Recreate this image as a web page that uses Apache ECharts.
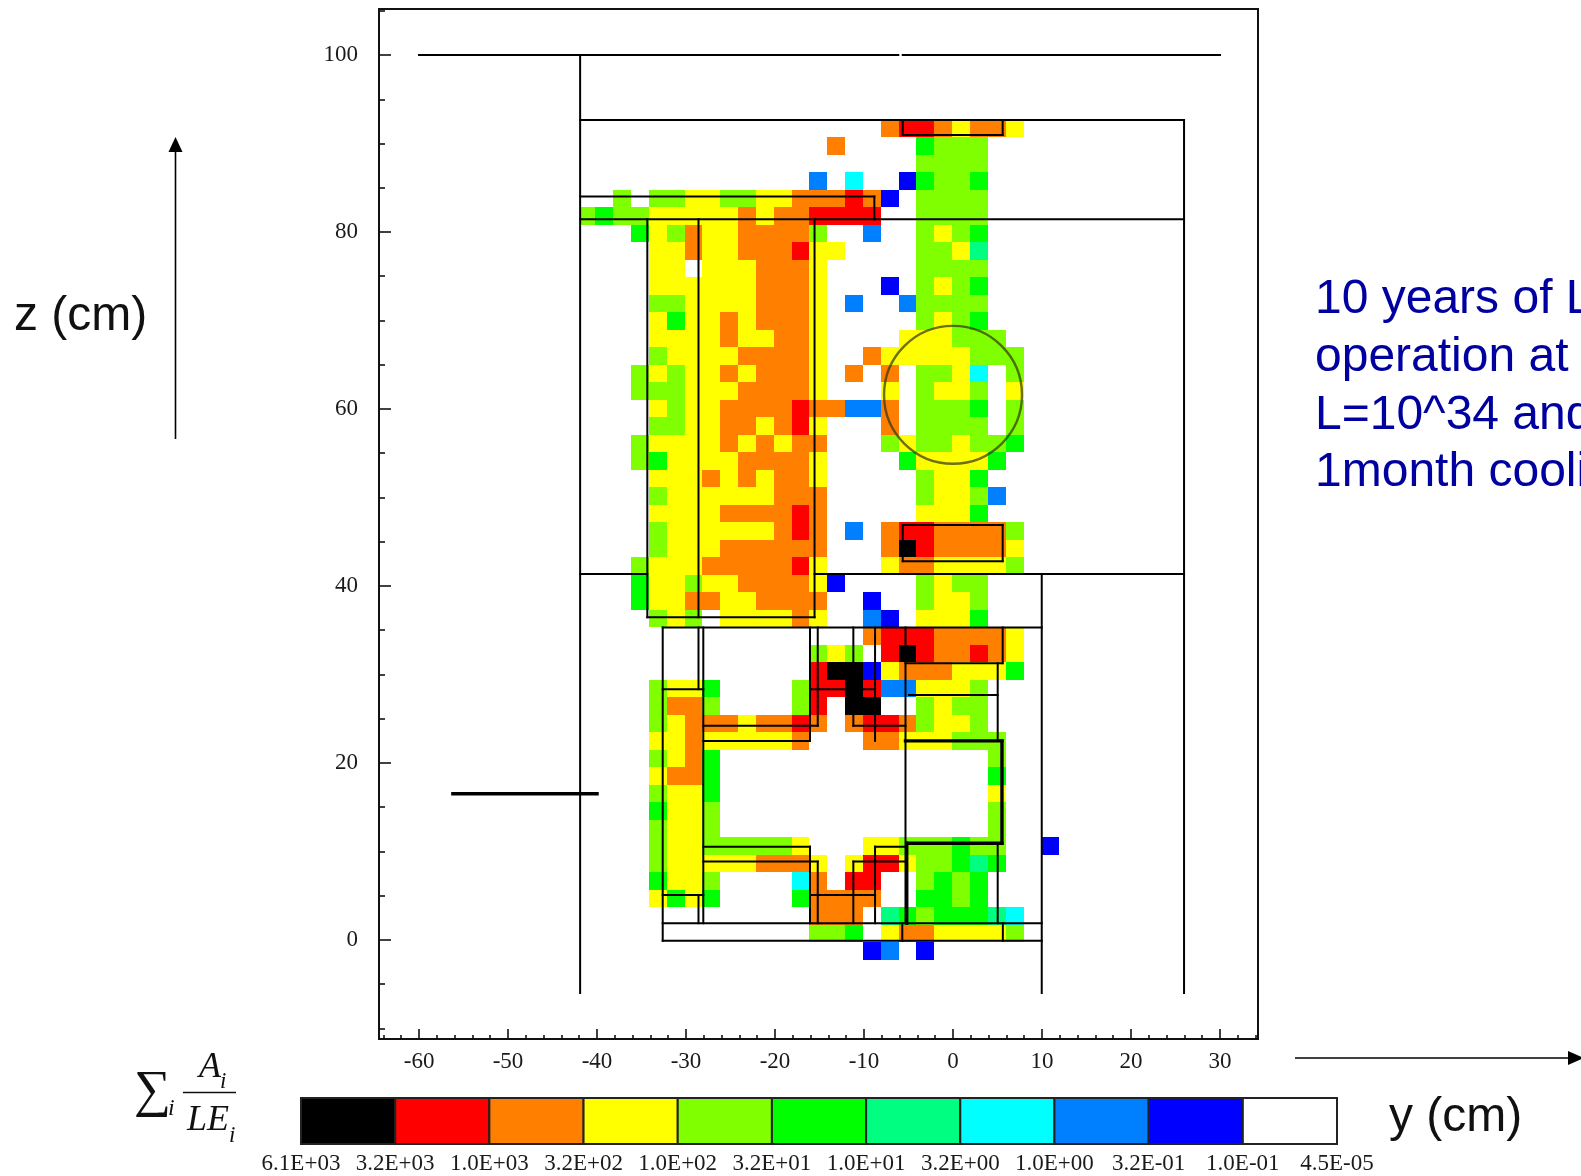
<!DOCTYPE html>
<html>
<head>
<meta charset="utf-8">
<style>html,body{margin:0;padding:0;background:#fff;overflow:hidden}#chart{width:1581px;height:1176px;filter:blur(0.55px)}</style>
<script src="https://cdn.jsdelivr.net/npm/echarts@6/dist/echarts.min.js"></script>
</head>
<body>
<div id="chart"></div>
<script>
// Colour bins, highest first; '.' is the white bin.
const levelKeys = ['k','r','o','y','g','G','s','c','a','b','.'];
const levelColors = ['#000000','#ff0000','#ff8000','#ffff00','#80ff00','#00ff00','#00ff80','#00ffff','#0080ff','#0000ff','#ffffff'];
const levelLabels = ['6.1E+03','3.2E+03','1.0E+03','3.2E+02','1.0E+02','3.2E+01','1.0E+01','3.2E+00','1.0E+00','3.2E-01','1.0E-01','4.5E-05'];

// Mesh: column 0 starts near y = -42 cm, columns are about 2 cm wide; row 0 starts at z = 92.66 cm.
const meshY0 = -42.2, meshDY = 2.005, meshZ0 = 92.66, meshDZ = 1.977, meshLeftWall = -41.9;

// Each row, top to bottom: "firstColumn:levels" runs.
const meshRows = [
 "17:orroyooy",
 "14:o 19:Gggg",
 "19:gggg",
 "13:a 15:c 18:bGggG",
 "2:g 4:ggyyggyyooo 15:rob 19:gggg",
 "0:gGggyyyyyoyoorrrr 19:gggg",
 "3:Gygoyyoooog 16:a 19:gygG",
 "4:yyoyyoooryy 19:ggys",
 "4:yy 7:yyyoooy 19:gggg",
 "4:yyyyyyoooy 17:b 19:gygG",
 "4:ggyyyyoooy 15:a 18:agggg",
 "4:yGyyoyoooy 19:gygG",
 "4:yyyyoyyooy 18:yyyggg",
 "4:gyyyyooooy 16:oyyyyyggg",
 "3:gygyyoyoooy 15:o 17:o 19:ggyc 24:g",
 "3:gggyyyooooy 17:y 19:gyyg 24:y",
 "4:ygyyoooorooaao 19:gggG 24:g",
 "4:ggyyooyory 17:o 19:gggg 24:g",
 "3:gyyyyoyoyoo 17:gyggyggG",
 "3:gGyyyyooooy 18:GyyyyG",
 "4:yyyoyoyooy 19:gyyG",
 "4:gyyyyyyooo 19:gyyga",
 "4:yyyyooooro 19:yyyG",
 "4:gyyyyyyoro 15:a 17:orroooog",
 "4:gyyyoooooo 17:okrooooy",
 "3:gyyyooooory 17:yooyyyyg",
 "3:Gyygyyooooyb 19:gygg",
 "3:Gyyooyyoooo 16:b 19:gyyg",
 "4:gyg 8:yyyyoy 16:ab 19:yyyG",
 "16:orrrooooy",
 "13:gyg 17:rkrooroy",
 "13:rkkbyoooyyyG",
 "4:gyyG 12:grrkraayyyg",
 "4:goog 12:gr 15:kk 19:gygg",
 "4:gyoooyooro 15:orrogyyg",
 "4:yyoyyyyyo 16:ooyyyggg",
 "4:gyoG 23:g",
 "4:yooG 23:G",
 "4:gyyG 23:y",
 "4:Gyyg 23:g",
 "4:gyyg 23:g",
 "4:gyygggggy 16:yygggGgg 26:b",
 "4:gyyyyyoooy 15:yrryggGsG",
 "4:Gyyg 12:co 15:rr 19:gGgG",
 "4:yGyG 12:Goooo 19:GGgG",
 "13:ooo 17:sGgGGGsc",
 "13:ggG 17:yooyyyyg",
 "16:ba 19:b"
];

// Detector outlines in cm: [y1,z1,y2,z2,...]
const thinOutlines = [
 [-60,100,-6.15,100],[-5.65,100,30,100],[-41.9,100,-41.9,-6],
 [-41.9,92.66,25.96,92.66,25.96,-6],[-41.9,81.43,25.96,81.43],
 [-41.9,84,-8.84,84,-8.84,81.43],
 [-5.65,92.66,5.58,92.66,5.58,90.96,-5.65,90.96,-5.65,92.66],
 [-34.35,81.43,-34.35,36.46,-15.56,36.46,-15.56,81.43],[-28.6,81.43,-28.6,36.46],
 [-41.9,41.36,-34.35,41.36],[-15.56,41.36,25.96,41.36],
 [-5.65,46.9,5.58,46.9,5.58,42.8,-5.65,42.8,-5.65,46.9],
 [9.97,41.36,9.97,-6],[-32.62,35.3,9.97,35.3],
 [-32.62,35.3,-32.62,-0.11,9.97,-0.11],[-32.62,1.89,9.97,1.89],
 [-32.62,28.33,-28.06,28.33],[-28.6,35.3,-28.6,28.33],[-28.06,35.3,-28.06,1.89],
 [-32.62,5.08,-28.06,5.08],[-28.6,5.08,-28.6,1.89],
 [-28.06,24.2,-15.2,24.2,-15.2,35.3],[-28.06,22.49,-16.07,22.49,-16.07,35.3],
 [-16.07,28.33,-8.76,28.33],[-11.2,35.3,-11.2,24.2,-5.34,24.2],[-8.76,35.3,-8.76,22.49],
 [-5.34,35.3,-5.34,1.89],[-5.7,1.89,-5.7,-0.11],
 [-5.34,31.27,5.58,31.27],[5.58,35.3,5.58,31.27],[5.02,31.27,5.02,22.49],
 [-4.95,27.68,5.02,27.68],[5.02,10.93,5.02,1.89],[5.6,1.89,5.6,-0.11],
 [-28.06,10.54,-16.07,10.54,-16.07,1.89],[-28.06,8.85,-15.2,8.85,-15.2,1.89],
 [-16.07,5.08,-8.76,5.08],[-11.2,1.89,-11.2,8.85,-5.34,8.85],[-8.76,1.89,-8.76,10.54,-5.34,10.54]
];
const thickOutlines = [
 [-5.34,22.49,5.5,22.49,5.5,10.93,-5.2,10.93,-5.2,1.89],
 [-56.2,16.52,-40,16.52]
];
const ringCenterY = 0, ringCenterZ = 61.6, ringRadius = 7.75;

const xMajorTicks = [-60,-50,-40,-30,-20,-10,0,10,20,30];
const xMinorTicks = [-64,-62,-58,-56,-54,-52,-48,-46,-44,-42,-38,-36,-34,-32,-28,-26,-24,-22,-18,-16,-14,-12,-8,-6,-4,-2,2,4,6,8,12,14,16,18,22,24,26,28,32,34];
const zMajorTicks = [0,20,40,60,80,100];
const zMinorTicks = [-10,-5,5,10,15,25,30,35,45,50,55,65,70,75,85,90,95,105];

const SERIF = '"Liberation Serif","Times New Roman",serif';
const SANS = '"Liberation Sans",Arial,sans-serif';
const INK = '#1a1a1a';

const cellData = [];
meshRows.forEach((row, j) => {
  row.split(' ').forEach(run => {
    const [start, levels] = run.split(':');
    [...levels].forEach((ch, k) => {
      const i = +start + k;
      const y0 = meshY0 + i * meshDY;
      const zTop = meshZ0 - j * meshDZ;
      cellData.push([Math.max(y0, meshLeftWall), zTop - meshDZ, y0 + meshDY, zTop, levelKeys.indexOf(ch)]);
    });
  });
});
const toSegments = (paths, w) => paths.flatMap(p => {
  const out = [];
  for (let i = 0; i + 3 < p.length; i += 2) out.push([p[i], p[i+1], p[i+2], p[i+3], w]);
  return out;
});
const segmentData = toSegments(thinOutlines, 2).concat(toSegments(thickOutlines, 3.4));
const legendData = levelColors.map((c, i) => [i, 0, i + 1, 1, i]);

function renderCell(params, api) {
  const a = api.coord([api.value(0), api.value(3)]);
  const b = api.coord([api.value(2), api.value(1)]);
  const x = Math.round(a[0]), y = Math.round(a[1]);
  return { type: 'rect', shape: { x, y, width: Math.round(b[0]) - x, height: Math.round(b[1]) - y },
           style: { fill: levelColors[api.value(4)] } };
}
function renderLegendCell(params, api) {
  const a = api.coord([api.value(0), api.value(3)]);
  const b = api.coord([api.value(2), api.value(1)]);
  return { type: 'rect', shape: { x: a[0], y: a[1], width: b[0] - a[0], height: b[1] - a[1] },
           style: { fill: levelColors[api.value(4)], stroke: '#222', lineWidth: 2 } };
}
function renderSegment(params, api) {
  const a = api.coord([api.value(0), api.value(1)]);
  const b = api.coord([api.value(2), api.value(3)]);
  return { type: 'line', shape: { x1: a[0], y1: a[1], x2: b[0], y2: b[1] },
           style: { stroke: '#000', lineWidth: api.value(4), lineCap: 'square' } };
}
function renderRing(params, api) {
  const c = api.coord([api.value(0), api.value(1)]);
  const r = api.size([api.value(2), 0])[0];
  return { type: 'circle', shape: { cx: c[0], cy: c[1], r },
           style: { fill: 'none', stroke: 'rgba(50,50,20,0.7)', lineWidth: 2.4 } };
}

const txt = (x, y, text, font, fill, align) => ({
  type: 'text', x, y, silent: true,
  style: { text, font, fill: fill || '#111', textAlign: align || 'left', textVerticalAlign: 'middle' }
});
const blueFont = '48px ' + SANS, labelFont = '48px ' + SANS;
const BLUE = '#0000a0';

const option = {
  animation: false,
  backgroundColor: '#fff',
  grid: [
    { left: 379, top: 9, width: 879, height: 1030, show: true, borderColor: '#111', borderWidth: 2, backgroundColor: 'transparent', z: 0 },
    { left: 301, top: 1098, width: 1036, height: 46 }
  ],
  xAxis: [
    { gridIndex: 0, type: 'value', min: -64.5, max: 34.27, position: 'bottom', splitLine: { show: false },
      axisLine: { show: true, onZero: false, lineStyle: { color: '#111', width: 2 } },
      axisTick: { show: true, inside: true, length: 10, lineStyle: { color: '#111', width: 1.6 }, customValues: xMajorTicks },
      axisLabel: { show: true, margin: 11, color: INK, fontFamily: SERIF, fontSize: 23, customValues: xMajorTicks } },
    { gridIndex: 0, type: 'value', min: -64.5, max: 34.27, position: 'bottom', splitLine: { show: false },
      axisLine: { show: false, onZero: false },
      axisTick: { show: true, inside: true, length: 4, lineStyle: { color: '#111', width: 1.6 }, customValues: xMinorTicks },
      axisLabel: { show: false } },
    { gridIndex: 1, type: 'value', min: 0, max: 11, interval: 1, position: 'bottom', splitLine: { show: false },
      axisLine: { show: false, onZero: false }, axisTick: { show: false },
      axisLabel: { show: true, margin: 8, color: INK, fontFamily: SERIF, fontSize: 23, showMinLabel: true, showMaxLabel: true,
                   hideOverlap: false, formatter: v => levelLabels[v] } }
  ],
  yAxis: [
    { gridIndex: 0, type: 'value', min: -11.2, max: 105.2, position: 'left', splitLine: { show: false },
      axisLine: { show: true, onZero: false, lineStyle: { color: '#111', width: 2 } },
      axisTick: { show: true, inside: true, length: 12, lineStyle: { color: '#111', width: 1.6 }, customValues: zMajorTicks },
      axisLabel: { show: true, margin: 21, color: INK, fontFamily: SERIF, fontSize: 23, customValues: zMajorTicks } },
    { gridIndex: 0, type: 'value', min: -11.2, max: 105.2, position: 'left', splitLine: { show: false },
      axisLine: { show: false, onZero: false },
      axisTick: { show: true, inside: true, length: 6, lineStyle: { color: '#111', width: 1.6 }, customValues: zMinorTicks },
      axisLabel: { show: false } },
    { gridIndex: 1, type: 'value', min: 0, max: 1, show: false, splitLine: { show: false } }
  ],
  series: [
    { type: 'custom', name: 'dose cells', xAxisIndex: 0, yAxisIndex: 0, z: 2, silent: true, clip: false,
      coordinateSystem: 'cartesian2d', renderItem: renderCell, encode: { x: [0, 2], y: [1, 3] }, data: cellData },
    { type: 'custom', name: 'outlines', xAxisIndex: 0, yAxisIndex: 0, z: 3, silent: true, clip: false,
      coordinateSystem: 'cartesian2d', renderItem: renderSegment, encode: { x: [0, 2], y: [1, 3] }, data: segmentData },
    { type: 'custom', name: 'ring', xAxisIndex: 0, yAxisIndex: 0, z: 4, silent: true, clip: false,
      coordinateSystem: 'cartesian2d', renderItem: renderRing, encode: { x: 0, y: 1 }, data: [[ringCenterY, ringCenterZ, ringRadius]] },
    { type: 'custom', name: 'colour scale', xAxisIndex: 2, yAxisIndex: 2, z: 2, silent: true, clip: false,
      coordinateSystem: 'cartesian2d', renderItem: renderLegendCell, encode: { x: [0, 2], y: [1, 3] }, data: legendData }
  ],
  graphic: [
    // axis arrows
    { type: 'line', silent: true, shape: { x1: 175.5, y1: 439, x2: 175.5, y2: 145 }, style: { stroke: '#000', lineWidth: 1.6 } },
    { type: 'polygon', silent: true, shape: { points: [[175.5, 137], [168.5, 152], [182.5, 152]] }, style: { fill: '#000' } },
    { type: 'line', silent: true, shape: { x1: 1295, y1: 1058, x2: 1572, y2: 1058 }, style: { stroke: '#000', lineWidth: 1.6 } },
    { type: 'polygon', silent: true, shape: { points: [[1584, 1058], [1568, 1051], [1568, 1065]] }, style: { fill: '#000' } },
    // titles
    txt(14, 317, 'z (cm)', labelFont),
    txt(1389, 1118, 'y (cm)', labelFont),
    txt(1315, 300, '10 years of L', blueFont, BLUE),
    txt(1315, 358, 'operation at', blueFont, BLUE),
    txt(1315, 416, 'L=10^34 and', blueFont, BLUE),
    txt(1315, 473, '1month cooling', blueFont, BLUE),
    // formula
    txt(134, 1092, '\u2211', '52px ' + SERIF, '#111'),
    txt(168, 1109, 'i', 'italic 24px ' + SERIF, '#111'),
    txt(199, 1068, 'A', 'italic 36px ' + SERIF, '#111'),
    txt(220, 1082, 'i', 'italic 23px ' + SERIF, '#111'),
    { type: 'line', silent: true, shape: { x1: 183, y1: 1092.5, x2: 236, y2: 1092.5 }, style: { stroke: '#111', lineWidth: 1.4 } },
    txt(187, 1121, 'LE', 'italic 36px ' + SERIF, '#111'),
    txt(229, 1136, 'i', 'italic 23px ' + SERIF, '#111')
  ]
};
const chart = echarts.init(document.getElementById('chart'), null, { renderer: 'canvas', width: 1581, height: 1176 });
chart.setOption(option);
</script>
</body>
</html>
